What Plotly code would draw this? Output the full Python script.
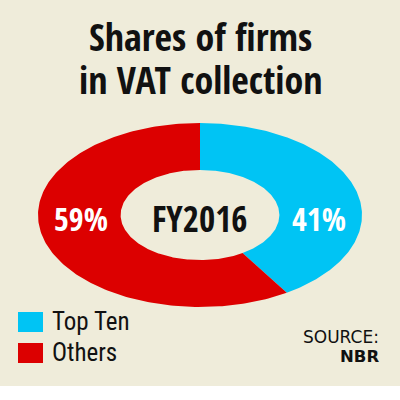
import numpy as np
import plotly.graph_objects as go

# ---- data ----
categories = ["Top Ten", "Others"]
shares = [41, 59]
colors = ["#00c4f4", "#dc0000"]
center_label = "FY2016"
title_lines = ["Shares of firms", "in VAT collection"]
source_label = "SOURCE:"
source_name = "NBR"

BG = "#efecda"
CONDB = "Open Sans Condensed, Roboto Condensed, sans-serif"
COND = "Roboto Condensed, sans-serif"
SANS = "DejaVu Sans, sans-serif"

W, H = 400, 400
cx, cy = 200, 215          # ellipse centre in pixels (from top)
rx, ry = 162, 92           # outer radii in pixels
hole = 0.49

fig = go.Figure()

total = sum(shares)
start = 0.0
for cat, val, col in zip(categories, shares, colors):
    end = start + val / total * 2 * np.pi
    t = np.linspace(start, end, 200)
    xo, yo = np.sin(t), np.cos(t)
    xi, yi = hole * np.sin(t[::-1]), hole * np.cos(t[::-1])
    xs = np.concatenate([xo, xi, xo[:1]])
    ys = np.concatenate([yo, yi, yo[:1]])
    fig.add_trace(go.Scatter(x=xs, y=ys, mode="lines", fill="toself",
                             fillcolor=col, line=dict(width=0, color=col),
                             hoverinfo="skip", showlegend=False, name=cat))
    start = end

# labels on the ring
fig.add_annotation(x=0.735, y=-0.04, xref="x", yref="y", text=f"<b>{shares[0]}%</b>",
                   showarrow=False, font=dict(family=CONDB, size=32, color="white"))
fig.add_annotation(x=-0.735, y=-0.04, xref="x", yref="y", text=f"<b>{shares[1]}%</b>",
                   showarrow=False, font=dict(family=CONDB, size=32, color="white"))
fig.add_annotation(x=0, y=-0.04, xref="x", yref="y", text=f"<b>{center_label}</b>",
                   showarrow=False, font=dict(family=CONDB, size=35, color="#111111"))

# title
for line, ty in zip(title_lines, [36, 79]):
    fig.add_annotation(x=0.5, y=1 - ty / H, xref="paper", yref="paper", text=f"<b>{line}</b>",
                       showarrow=False, xanchor="center", yanchor="middle", height=40,
                       font=dict(family=CONDB, size=38, color="#111111"))

# background + manual legend
shapes = [dict(type="rect", xref="paper", yref="paper", x0=0, x1=1, y0=1 - 386 / H, y1=1,
               fillcolor=BG, line=dict(width=0), layer="below")]
sw_y = [322, 353]
txt_y = [321, 352]
for cat, col, yy, ty in zip(categories, colors, sw_y, txt_y):
    shapes.append(dict(type="rect", xref="paper", yref="paper",
                       x0=18 / W, x1=43 / W, y0=1 - (yy + 10) / H, y1=1 - (yy - 10) / H,
                       fillcolor=col, line=dict(width=0)))
    fig.add_annotation(x=50 / W, y=1 - ty / H, xref="paper", yref="paper", text=cat,
                       showarrow=False, xanchor="left", yanchor="middle", height=28,
                       font=dict(family=COND, size=25, color="#111111"))

fig.add_annotation(x=381 / W, y=1 - 337 / H, xref="paper", yref="paper", text=source_label,
                   showarrow=False, xanchor="right", yanchor="middle",
                   font=dict(family=SANS, size=17, color="#111111"))
fig.add_annotation(x=381 / W, y=1 - 356 / H, xref="paper", yref="paper", text=f"<b>{source_name}</b>",
                   showarrow=False, xanchor="right", yanchor="middle",
                   font=dict(family=SANS, size=16.5, color="#111111"))

fig.update_layout(
    width=W, height=H, margin=dict(l=0, r=0, t=0, b=0),
    paper_bgcolor="white", plot_bgcolor="rgba(0,0,0,0)",
    shapes=shapes,
    xaxis=dict(range=[-cx / rx, (W - cx) / rx], visible=False, fixedrange=True),
    yaxis=dict(range=[-(H - cy) / ry, cy / ry], visible=False, fixedrange=True),
    showlegend=False,
)
fig.write_html("out.html", config={"displayModeBar": False},
               post_script="document.body.style.margin='0';")
